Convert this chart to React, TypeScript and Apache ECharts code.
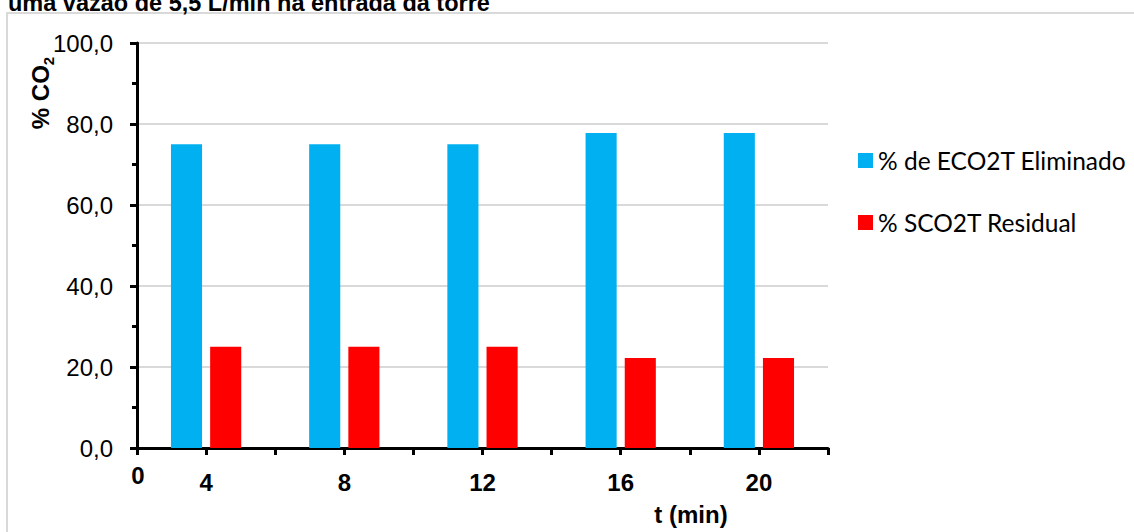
import React, { useEffect, useRef } from "react";
import * as echarts from "echarts";

const categories = ["4", "8", "12", "16", "20"];
const eliminado = [75.0, 75.0, 75.0, 77.8, 77.8];
const residual = [25.0, 25.0, 25.0, 22.2, 22.2];
const seriesNames = ["% de ECO2T Eliminado", "% SCO2T Residual"];
const tickSlots = ["", "", "", "", "", "", "", "", "", ""];
const titleText = "uma vazão de 5,5 L/min na entrada da torre";
const xName = "t (min)";
const originLabel = "0";

const AX = "Liberation Sans, Arial, sans-serif";

export default function App() {
  const ref = useRef<HTMLDivElement>(null);
  useEffect(() => {
    if (!ref.current) return;
    const chart = echarts.init(ref.current, null, { renderer: "svg" });
    chart.setOption({
      animation: false,
      backgroundColor: "#ffffff",
      grid: { left: 137, right: 306, top: 43, bottom: 84, containLabel: false },
      legend: {
        orient: "vertical",
        left: 853,
        top: 143,
        itemWidth: 15,
        itemHeight: 15,
        itemGap: 37,
        icon: "rect",
        textStyle: { fontFamily: "Lato, sans-serif", fontSize: 24.5, color: "#000" },
        data: seriesNames,
      },
      xAxis: [
        {
          type: "category",
          data: categories,
          boundaryGap: true,
          axisLine: { show: true, lineStyle: { color: "#000", width: 3 } },
          axisTick: { show: false },
          axisLabel: {
            margin: 22,
            fontFamily: AX,
            fontSize: 24,
            fontWeight: "bold",
            color: "#000",
          },
          splitLine: { show: false },
        },
        {
          type: "category",
          data: tickSlots,
          position: "bottom",
          boundaryGap: true,
          axisLine: { show: false },
          axisTick: { show: true, interval: 0, length: 7, lineStyle: { color: "#000", width: 3 } },
          axisLabel: { show: false },
          splitLine: { show: false },
        },
      ],
      yAxis: {
        type: "value",
        min: 0,
        max: 100,
        interval: 20,
        axisLine: { show: true, lineStyle: { color: "#000", width: 3 } },
        axisTick: { show: true, length: 7, lineStyle: { color: "#000", width: 3 } },
        minorTick: { show: true, splitNumber: 2, length: 5, lineStyle: { color: "#000", width: 3 } },
        axisLabel: {
          margin: 24,
          fontFamily: AX,
          fontSize: 24,
          color: "#000",
          formatter: (v: number) => v.toFixed(1).replace(".", ","),
        },
        splitLine: { show: true, lineStyle: { color: "#d9d9d9", width: 2 } },
      },
      series: [
        {
          name: seriesNames[0],
          type: "bar",
          data: eliminado,
          barWidth: "22.5%",
          barGap: "26%",
          itemStyle: { color: "#00b0f0" },
        },
        {
          name: seriesNames[1],
          type: "bar",
          data: residual,
          barWidth: "22.5%",
          barGap: "26%",
          itemStyle: { color: "#ff0000" },
        },
      ],
      graphic: [
        {
          type: "rect",
          z: -10,
          shape: { x: 7, y: 13, width: 1200, height: 600 },
          style: { fill: "none", stroke: "#d9d9d9", lineWidth: 2 },
        },
        {
          type: "text",
          x: 8,
          y: 15,
          style: {
            text: titleText,
            fontFamily: AX,
            fontSize: 23.5,
            fontWeight: "bold",
            fill: "#000",
            verticalAlign: "bottom",
            align: "left",
          },
        },
        {
          type: "text",
          x: 138,
          y: 475,
          style: {
            text: originLabel,
            fontFamily: AX,
            fontSize: 24,
            fontWeight: "bold",
            fill: "#000",
            align: "center",
            verticalAlign: "middle",
          },
        },
        {
          type: "text",
          x: 691,
          y: 514,
          style: {
            text: xName,
            fontFamily: AX,
            fontSize: 24,
            fontWeight: "bold",
            fill: "#000",
            align: "center",
            verticalAlign: "middle",
          },
        },
        {
          type: "text",
          x: 40,
          y: 93,
          rotation: Math.PI / 2,
          style: {
            text: "{a|% CO}{s|2}",
            align: "center",
            verticalAlign: "middle",
            rich: {
              a: { fontFamily: AX, fontSize: 24, fontWeight: "bold", fill: "#000", lineHeight: 32, verticalAlign: "middle" },
              s: { fontFamily: AX, fontSize: 15, fontWeight: "bold", fill: "#000", lineHeight: 32, verticalAlign: "bottom" },
            },
          },
        },
      ],
    });
    return () => chart.dispose();
  }, []);
  return (
    <div
      ref={ref}
      style={{ position: "fixed", left: 0, top: 0, width: 1134, height: 532 }}
    />
  );
}
